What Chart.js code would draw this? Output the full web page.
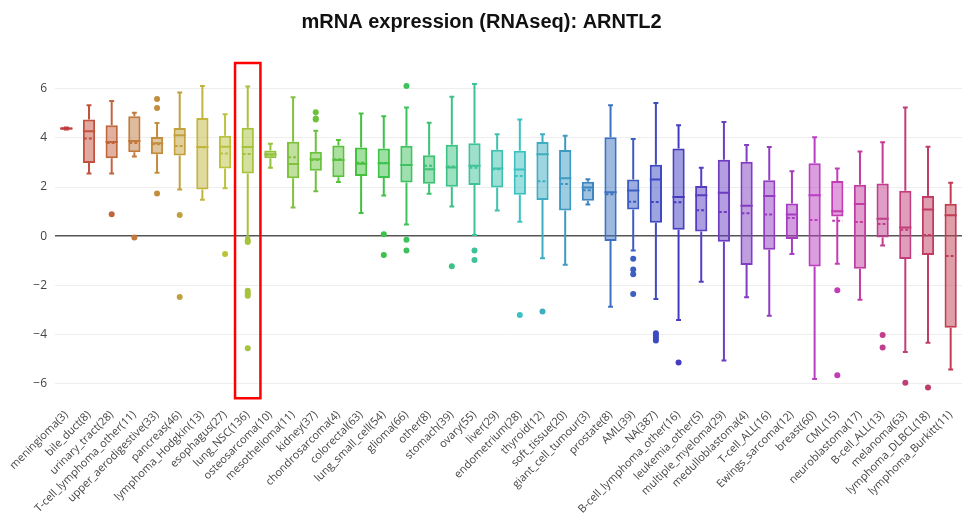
<!DOCTYPE html>
<html>
<head>
<meta charset="utf-8">
<script src="https://cdn.jsdelivr.net/npm/chart.js@4"></script>
<style>
  html, body { margin: 0; padding: 0; background: #fff; }
  #wrap { width: 966px; height: 524px; }
</style>
</head>
<body>
<div id="wrap"><canvas id="chartBox"></canvas></div>
<script>
// categorias (tipo de tecido + numero de linhas celulares)
const categories = ['meningioma(3)', 'bile_duct(8)', 'urinary_tract(28)', 'T-cell_lymphoma_other(11)', 'upper_aerodigestive(33)',
    'pancreas(46)', 'lymphoma_Hodgkin(13)', 'esophagus(27)', 'lung_NSC(136)', 'osteosarcoma(10)', 'mesothelioma(11)',
    'kidney(37)', 'chondrosarcoma(4)', 'colorectal(63)', 'lung_small_cell(54)', 'glioma(66)', 'other(8)', 'stomach(39)',
    'ovary(55)', 'liver(29)', 'endometrium(28)', 'thyroid(12)', 'soft_tissue(20)', 'giant_cell_tumour(3)', 'prostate(8)',
    'AML(39)', 'NA(387)', 'B-cell_lymphoma_other(16)', 'leukemia_other(5)', 'multiple_myeloma(29)', 'medulloblastoma(4)',
    'T-cell_ALL(16)', 'Ewings_sarcoma(12)', 'breast(60)', 'CML(15)', 'neuroblastoma(17)', 'B-cell_ALL(13)', 'melanoma(63)',
    'lymphoma_DLBCL(18)', 'lymphoma_Burkitt(11)'];

const whiskerHigh = [4.42, 5.33, 5.50, 5.02, 4.61, 5.85, 6.11, 4.96, 6.09, 3.76, 5.66, 4.29, 3.91, 4.99, 4.88, 5.24, 4.62, 5.68, 6.19, 4.15,
    4.75, 4.15, 4.09, 2.32, 5.33, 3.96, 5.42, 4.52, 2.79, 4.65, 3.71, 3.63, 2.64, 4.03, 2.75, 3.45, 3.82, 5.24, 3.64, 2.17];
const q3 = [4.42, 4.75, 4.52, 4.88, 4.04, 4.40, 4.81, 4.09, 4.41, 3.49, 3.84, 3.44, 3.69, 3.61, 3.57, 3.68, 3.29, 3.72, 3.78, 3.52,
    3.48, 3.83, 3.51, 2.22, 4.03, 2.31, 2.91, 3.57, 2.04, 3.11, 3.03, 2.28, 1.33, 2.97, 2.25, 2.09, 2.14, 1.85, 1.63, 1.32];
const median = [4.38, 4.27, 3.83, 3.87, 3.78, 4.11, 3.63, 3.64, 3.63, 3.33, 2.94, 3.13, 3.10, 2.95, 2.97, 2.90, 2.72, 2.80, 2.87, 2.75,
    2.71, 3.33, 2.36, 1.98, 1.79, 1.86, 2.31, 1.59, 1.67, 1.77, 1.24, 1.63, 0.88, 1.67, 1.01, 1.31, 0.71, 0.35, 1.09, 0.85];
const mean = [4.38, 3.98, 3.79, 3.79, 3.74, 3.67, 3.62, 3.37, 3.34, 3.30, 3.21, 3.10, 3.13, 2.99, 2.98, 2.90, 2.87, 2.84, 2.79, 2.72,
    2.45, 2.24, 2.12, 1.87, 1.71, 1.40, 1.39, 1.38, 1.05, 0.98, 0.93, 0.88, 0.74, 0.66, 0.63, 0.58, 0.49, 0.26, 0.05, -0.81];
const q1 = [4.34, 2.98, 3.17, 3.42, 3.33, 3.28, 1.90, 2.75, 2.55, 3.17, 2.36, 2.66, 2.40, 2.45, 2.37, 2.18, 2.13, 2.01, 2.08, 1.98,
    1.69, 1.47, 1.04, 1.44, -0.20, 1.09, 0.55, 0.26, 0.19, -0.23, -1.17, -0.55, -0.12, -1.24, 0.80, -1.33, -0.05, -0.93, -0.77, -3.73];
const whiskerLow = [4.34, 2.55, 2.55, 3.24, 2.58, 1.90, 1.48, 1.95, -0.08, 2.79, 1.17, 1.83, 2.21, 0.94, 1.66, 0.47, 1.73, 1.21, 0.05, 1.04,
    0.59, -0.90, -1.16, 1.29, -2.87, -0.58, -2.56, -3.41, -1.86, -5.06, -2.49, -3.24, -0.73, -5.82, -1.12, -2.59, -0.38, -4.72, -4.34, -5.43];
const outliers = [[], [], [0.89], [-0.05], [5.58, 5.22, 1.74], [0.86, -2.48], [], [-0.73], [-0.18, -0.24, -2.22, -2.32, -2.43, -4.56],
    [], [], [5.04, 4.79, 4.75], [], [], [0.08, -0.77], [6.11, -0.15, -0.58], [], [-1.23], [-0.58, -0.97], [], [-3.21], [-3.07],
    [], [], [], [-0.92, -1.36, -1.55, -2.36], [-3.95, -4.05, -4.15, -4.25], [-5.14], [], [], [], [], [], [], [-2.20, -5.66], [],
    [-4.02, -4.53], [-5.97], [-6.16], []];

const yTicks = [-6, -4, -2, 0, 2, 4, 6];
const destaque = 'lung_NSC(136)';

// cor de cada caixa: matiz girando ao longo das categorias
const corLinha = (i, a) => `hsla(${i * 9}, 52%, 50%, ${a})`;

const pontosOutlier = [];
const coresOutlier = [];
outliers.forEach((lista, i) => {
    lista.forEach(v => {
        pontosOutlier.push({ x: categories[i], y: v });
        coresOutlier.push(corLinha(i, 1));
    });
});

// desenha bigodes, mediana, media e o retangulo vermelho
const boxParts = {
    id: 'boxParts',
    afterDatasetsDraw(chart) {
        const { ctx, chartArea, scales: { x, y } } = chart;
        const meta = chart.getDatasetMeta(0);
        ctx.save();
        categories.forEach((c, i) => {
            const bar = meta.data[i];
            const cx = x.getPixelForValue(i);
            const half = bar.width / 2;
            const cap = bar.width * 0.2;
            ctx.strokeStyle = corLinha(i, 1);
            ctx.lineWidth = 2;
            ctx.setLineDash([]);
            ctx.beginPath();
            // bigode superior
            ctx.moveTo(cx, y.getPixelForValue(q3[i]));
            ctx.lineTo(cx, y.getPixelForValue(whiskerHigh[i]));
            ctx.moveTo(cx - cap, y.getPixelForValue(whiskerHigh[i]));
            ctx.lineTo(cx + cap, y.getPixelForValue(whiskerHigh[i]));
            // bigode inferior
            ctx.moveTo(cx, y.getPixelForValue(q1[i]));
            ctx.lineTo(cx, y.getPixelForValue(whiskerLow[i]));
            ctx.moveTo(cx - cap, y.getPixelForValue(whiskerLow[i]));
            ctx.lineTo(cx + cap, y.getPixelForValue(whiskerLow[i]));
            // mediana
            ctx.moveTo(cx - half, y.getPixelForValue(median[i]));
            ctx.lineTo(cx + half, y.getPixelForValue(median[i]));
            ctx.stroke();
            // media (tracejada)
            ctx.setLineDash([3, 2]);
            ctx.beginPath();
            ctx.moveTo(cx - half + 1, y.getPixelForValue(mean[i]));
            ctx.lineTo(cx + half - 1, y.getPixelForValue(mean[i]));
            ctx.stroke();
        });
        // retangulo de destaque
        const idx = categories.indexOf(destaque);
        const passo = x.getPixelForValue(1) - x.getPixelForValue(0);
        const xc = x.getPixelForValue(idx);
        ctx.setLineDash([]);
        ctx.strokeStyle = '#ff0000';
        ctx.lineWidth = 2.5;
        ctx.strokeRect(xc - passo * 0.56, chartArea.top, passo * 1.12, chartArea.bottom - chartArea.top);
        ctx.restore();
    }
};

const ctx = document.getElementById('chartBox').getContext('2d');
window.chartBox = new Chart(ctx, {
    type: 'bar',
    data: {
        labels: categories,
        datasets: [{
            data: categories.map((c, i) => [q1[i], q3[i]]),
            backgroundColor: categories.map((c, i) => corLinha(i, 0.5)),
            borderColor: categories.map((c, i) => corLinha(i, 1)),
            borderWidth: 2,
            borderSkipped: false,
            barPercentage: 0.54,
            categoryPercentage: 1
        }, {
            type: 'line',
            data: pontosOutlier,
            showLine: false,
            pointRadius: 3,
            pointBorderWidth: 0,
            pointBackgroundColor: coresOutlier,
            pointBorderColor: coresOutlier
        }]
    },
    options: {
        responsive: true,
        maintainAspectRatio: false,
        animation: false,
        layout: { padding: { left: 0, right: 3, bottom: 6 } },
        plugins: {
            legend: { display: false },
            tooltip: { enabled: false },
            title: {
                display: true,
                text: 'mRNA expression (RNAseq): ARNTL2',
                color: '#111',
                font: { family: 'Liberation Sans', size: 20, weight: 'bold' },
                padding: { top: 10, bottom: 29 }
            }
        },
        scales: {
            x: {
                grid: { display: false },
                border: { display: false },
                ticks: {
                    color: '#444',
                    font: { family: 'Open Sans', size: 11 },
                    maxRotation: 45,
                    minRotation: 45,
                    autoSkip: false,
                    padding: 2
                }
            },
            y: {
                min: -6.6,
                max: 7.05,
                afterBuildTicks: (scale) => { scale.ticks = yTicks.map(v => ({ value: v })); },
                afterFit: (scale) => { scale.width = 55; },
                border: { display: false },
                grid: {
                    color: (c) => c.tick && c.tick.value === 0 ? '#555' : '#eeeeee',
                    lineWidth: (c) => c.tick && c.tick.value === 0 ? 1.5 : 1,
                    drawTicks: false
                },
                ticks: {
                    color: '#444',
                    font: { family: 'Open Sans', size: 12 },
                    padding: 8,
                    callback: (v) => v < 0 ? '\u2212' + Math.abs(v) : String(v)
                }
            }
        }
    },
    plugins: [boxParts]
});
</script>
</body>
</html>
